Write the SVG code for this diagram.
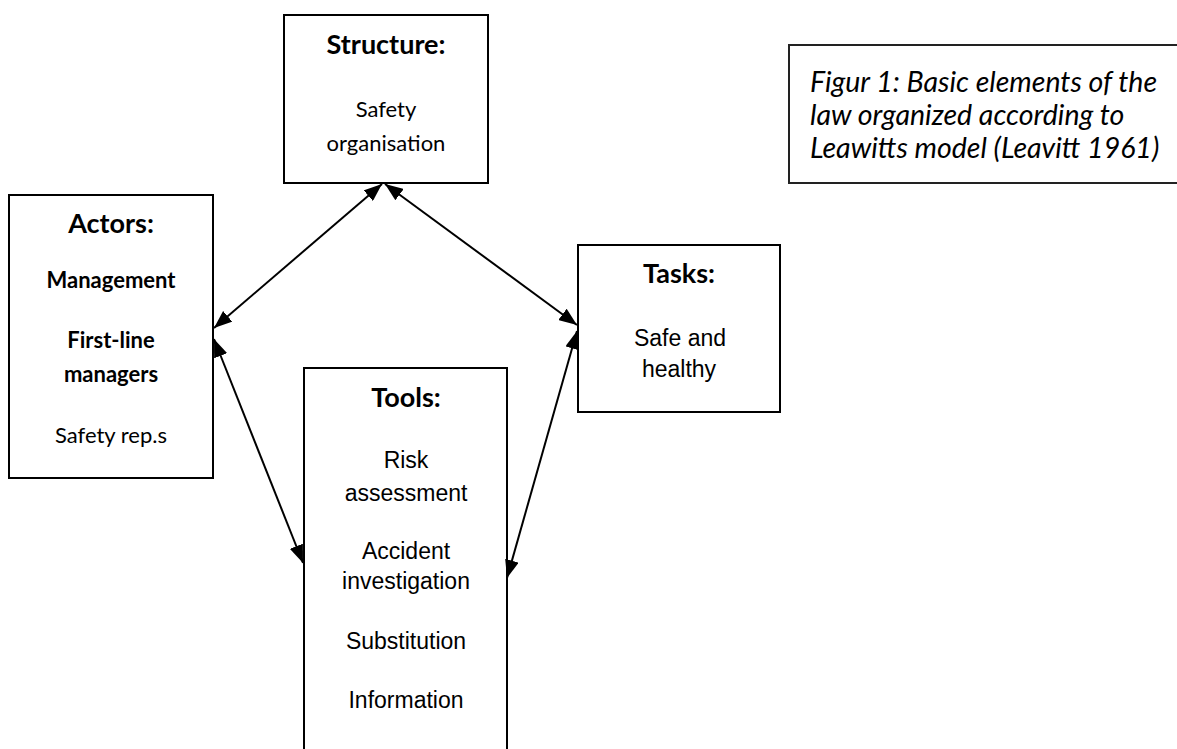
<svg xmlns="http://www.w3.org/2000/svg" width="1177" height="749" viewBox="0 0 1177 749">
<style>
.box{fill:#fff;stroke:#000;stroke-width:2}
.cal{font-family:Lato,"Liberation Sans",sans-serif;fill:#000;text-anchor:middle}
.h{font-weight:bold;font-size:27px}
.b{font-size:22px}
.bb{font-size:22px;font-weight:bold}
.ar{font-family:"Liberation Sans",Arial,sans-serif;font-size:23px;fill:#000;text-anchor:middle}
.cap{font-family:Lato,"Liberation Sans",sans-serif;font-style:italic;font-size:28.5px;fill:#000}
.con{stroke:#000;stroke-width:2;fill:none;marker-start:url(#ah);marker-end:url(#ah)}
</style>
<defs>
<marker id="ah" viewBox="0 0 18 14" refX="18" refY="7" markerWidth="18" markerHeight="14" markerUnits="userSpaceOnUse" orient="auto-start-reverse">
<path d="M0,0 L18,7 L0,14 Z" fill="#000"/>
</marker>
</defs>
<g id="caption">
<rect x="789" y="45" width="420" height="138" fill="#fff" stroke="#222" stroke-width="2"/>
<text class="cap" x="810" y="92">Figur 1: Basic elements of the</text>
<text class="cap" x="810" y="125">law organized according to</text>
<text class="cap" x="810" y="158">Leawitts model (Leavitt 1961)</text>
</g>
<g id="structure">
<rect class="box" x="284" y="15" width="204" height="168"/>
<text class="cal h" x="386" y="54">Structure:</text>
<text class="cal b" x="386" y="117">Safety</text>
<text class="cal b" x="386" y="151">organisation</text>
</g>
<g id="actors">
<rect class="box" x="9" y="195" width="204" height="283"/>
<text class="cal h" x="111" y="233">Actors:</text>
<text class="cal bb" x="111" y="288">Management</text>
<text class="cal bb" x="111" y="348">First-line</text>
<text class="cal bb" x="111" y="382">managers</text>
<text class="cal b" x="111" y="443">Safety rep.s</text>
</g>
<g id="tasks">
<rect class="box" x="578" y="245" width="202" height="167"/>
<text class="cal h" x="679" y="283">Tasks:</text>
<text class="ar" x="680" y="346">Safe and</text>
<text class="ar" x="679" y="377">healthy</text>
</g>
<g id="tools">
<rect class="box" x="304" y="368" width="203" height="420"/>
<text class="cal h" x="406" y="407">Tools:</text>
<text class="ar" x="406" y="468">Risk</text>
<text class="ar" x="406" y="501">assessment</text>
<text class="ar" x="406" y="559">Accident</text>
<text class="ar" x="406" y="589">investigation</text>
<text class="ar" x="406" y="649">Substitution</text>
<text class="ar" x="406" y="708">Information</text>
</g>
<g id="connectors">
<line class="con" x1="382" y1="184" x2="214" y2="328"/>
<line class="con" x1="385" y1="184" x2="577" y2="325"/>
<line class="con" x1="214" y1="339" x2="303" y2="563"/>
<line class="con" x1="577" y1="331" x2="507" y2="578"/>
</g>
</svg>
